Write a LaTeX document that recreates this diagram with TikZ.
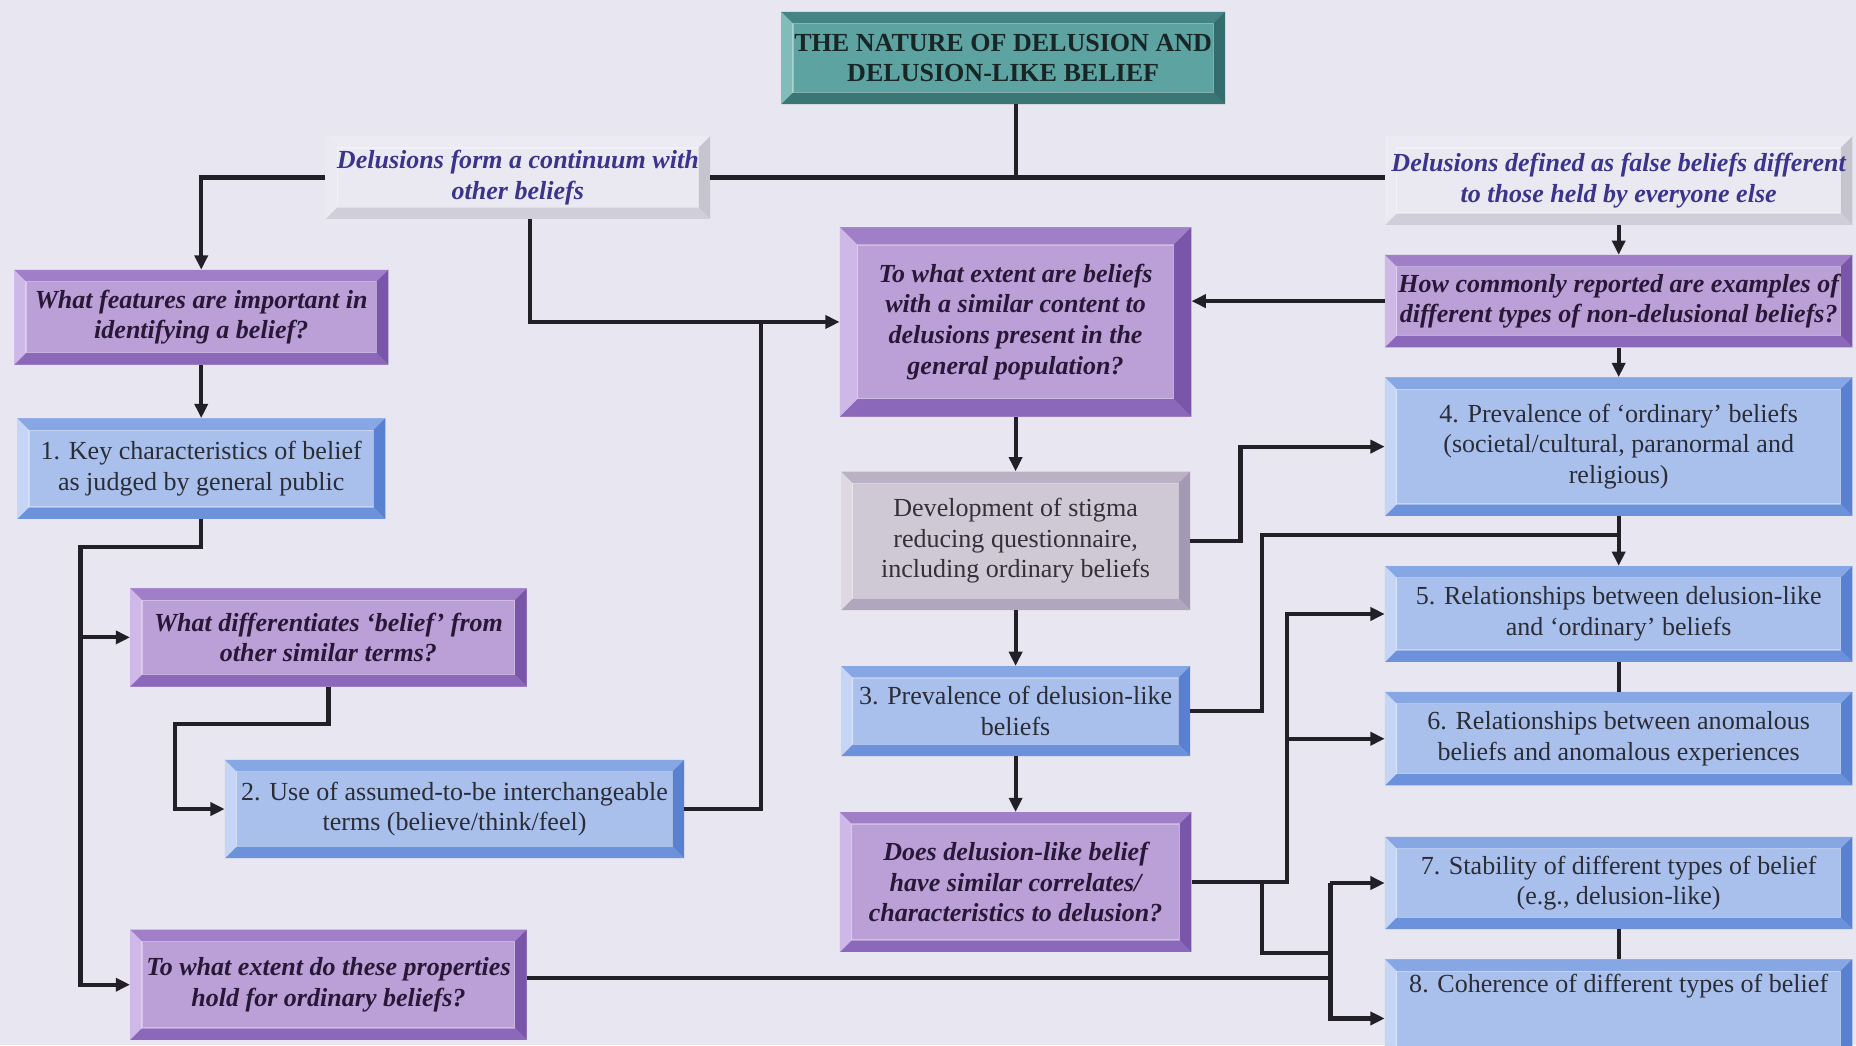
\documentclass[tikz,border=0pt]{standalone}
\usepackage{fontspec}
\setmainfont{Liberation Serif}
\usetikzlibrary{positioning, arrows.meta}

\definecolor{bgcol}{RGB}{232,230,240}
\definecolor{linecol}{RGB}{34,32,38}
% purple question boxes
\definecolor{qface}{RGB}{187,160,215}
\definecolor{qtop}{RGB}{160,126,200}
\definecolor{qright}{RGB}{122,86,170}
\definecolor{qbottom}{RGB}{140,104,186}
\definecolor{qleft}{RGB}{206,184,231}
\definecolor{qtext}{RGB}{40,24,56}
% blue study boxes
\definecolor{sface}{RGB}{170,192,236}
\definecolor{stop}{RGB}{135,166,228}
\definecolor{sright}{RGB}{90,128,210}
\definecolor{sbottom}{RGB}{108,146,220}
\definecolor{sleft}{RGB}{197,213,245}
\definecolor{stext}{RGB}{42,44,54}
% grey box
\definecolor{gface}{RGB}{206,201,212}
\definecolor{gtop}{RGB}{186,178,196}
\definecolor{gright}{RGB}{164,153,178}
\definecolor{gbottom}{RGB}{176,166,190}
\definecolor{gleft}{RGB}{221,216,226}
\definecolor{gtext}{RGB}{52,48,58}
% teal title
\definecolor{tface}{RGB}{92,163,162}
\definecolor{ttop}{RGB}{68,132,130}
\definecolor{tright}{RGB}{52,110,108}
\definecolor{tbottom}{RGB}{58,118,116}
\definecolor{tleft}{RGB}{128,188,186}
\definecolor{ttext}{RGB}{25,38,38}
% pale heading boxes
\definecolor{pface}{RGB}{234,233,242}
\definecolor{ptop}{RGB}{236,235,243}
\definecolor{pright}{RGB}{198,196,206}
\definecolor{pbottom}{RGB}{208,206,216}
\definecolor{pleft}{RGB}{235,234,242}
\definecolor{ptext}{RGB}{58,52,140}

\newcommand{\boxfont}{\fontsize{22}{26}\selectfont}

\tikzset{
  bevel/.store in=\bevelw, bevel=10pt,
  facets/.style n args={4}{path picture={
    \path (path picture bounding box.north west) coordinate (bnw)
          (path picture bounding box.north east) coordinate (bne)
          (path picture bounding box.south east) coordinate (bse)
          (path picture bounding box.south west) coordinate (bsw);
    \fill[#1] (bnw) -- (bne) -- ([shift={(-\bevelw,-\bevelw)}]bne) -- ([shift={(\bevelw,-\bevelw)}]bnw) -- cycle;
    \fill[#2] (bne) -- (bse) -- ([shift={(-\bevelw,\bevelw)}]bse) -- ([shift={(-\bevelw,-\bevelw)}]bne) -- cycle;
    \fill[#3] (bse) -- (bsw) -- ([shift={(\bevelw,\bevelw)}]bsw) -- ([shift={(-\bevelw,\bevelw)}]bse) -- cycle;
    \fill[#4] (bsw) -- (bnw) -- ([shift={(\bevelw,-\bevelw)}]bnw) -- ([shift={(\bevelw,\bevelw)}]bsw) -- cycle;
    \draw[white, opacity=0.35, line width=1pt] ([shift={(\bevelw,-\bevelw)}]bnw) rectangle ([shift={(-\bevelw,\bevelw)}]bse);
  }},
  anybox/.style={rectangle, inner sep=0pt, align=center},
  qbox/.style={anybox, fill=qface, facets={qtop}{qright}{qbottom}{qleft}, text=qtext, font=\boxfont\bfseries\itshape},
  sbox/.style={anybox, fill=sface, facets={stop}{sright}{sbottom}{sleft}, text=stext, font=\boxfont},
  gbox/.style={anybox, fill=gface, facets={gtop}{gright}{gbottom}{gleft}, text=gtext, font=\boxfont},
  topbox/.style={anybox, fill=tface, facets={ttop}{tright}{tbottom}{tleft}, text=ttext, font=\boxfont\bfseries},
  headbox/.style={anybox, fill=pface, facets={ptop}{pright}{pbottom}{pleft}, text=ptext, font=\boxfont\bfseries\itshape},
  joint/.style={draw=linecol, line width=3.5pt},
  flow/.style={joint, -{Triangle[length=12pt, width=11pt]}},
}

\begin{document}
\begin{tikzpicture}[x=1pt, y=-1pt]

  \fill[bgcol] (0,0) rectangle (1568,883);
  \useasboundingbox (0,0) rectangle (1568,883);

  \node[topbox, minimum width=375pt, minimum height=78pt] (nature) at (847.5,49) {THE NATURE OF DELUSION AND\\DELUSION-LIKE BELIEF};

  \node[headbox, minimum width=325pt, minimum height=70pt] (continuum) at (437.5,150) {Delusions form a continuum with\\other beliefs};
  \node[headbox, minimum width=395pt, minimum height=75pt] (defined) at (1367.5,152.5) {Delusions defined as false beliefs different\\to those held by everyone else};

  %==================================================

  \node[qbox, minimum width=316pt, minimum height=80pt] (features) at (170,268) {What features are important in\\identifying a belief?};
  \node[sbox, minimum width=311pt, minimum height=85pt, below=45pt of features] (key_chars) {1. Key characteristics of belief\\as judged by general public};
  \node[qbox, minimum width=335pt, minimum height=83pt] (differ) at (277.5,538.5) {What differentiates `belief' from\\other similar terms?};
  \node[sbox, minimum width=388pt, minimum height=83pt] (terms) at (384,683.5) {2. Use of assumed-to-be interchangeable\\terms (believe/think/feel)};
  \node[qbox, minimum width=335pt, minimum height=93pt, below=205pt of differ] (properties) {To what extent do these properties\\hold for ordinary beliefs?};

  %==================================================

  \node[qbox, bevel=15pt, minimum width=297pt, minimum height=160pt] (extent) at (858,272) {To what extent are beliefs\\with a similar content to\\delusions present in the\\general population?};
  \node[gbox, minimum width=295pt, minimum height=117pt, below=46pt of extent] (stigma) {Development of stigma\\reducing questionnaire,\\including ordinary beliefs};
  \node[sbox, minimum width=295pt, minimum height=76pt, below=47pt of stigma] (prev_dl) {3. Prevalence of delusion-like\\beliefs};
  \node[qbox, minimum width=297pt, minimum height=118pt, below=47pt of prev_dl] (correlates) {Does delusion-like belief\\have similar correlates/\\characteristics to delusion?};

  %==================================================

  \node[qbox, minimum width=395pt, minimum height=78pt, below=25pt of defined] (commonly) {How commonly reported are examples of\\different types of non-delusional beliefs?};
  \node[sbox, minimum width=395pt, minimum height=117pt, below=25pt of commonly] (prev_ord) {4. Prevalence of `ordinary' beliefs\\(societal/cultural, paranormal and\\religious)};
  \node[sbox, minimum width=395pt, minimum height=81pt, below=42pt of prev_ord] (rel_dl) {5. Relationships between delusion-like\\and `ordinary' beliefs};
  \node[sbox, minimum width=395pt, minimum height=79pt, below=25pt of rel_dl] (rel_anom) {6. Relationships between anomalous\\beliefs and anomalous experiences};
  \node[sbox, minimum width=395pt, minimum height=78pt, below=43pt of rel_anom] (stability) {7. Stability of different types of belief\\(e.g., delusion-like)};
  \node[sbox, minimum width=395pt, minimum height=100pt, below=25pt of stability] (coherence) {8. Coherence of different types of belief\\\strut\\\strut};

  %==================================================

  \coordinate (feed_extent) at (643,272);
  \coordinate (bend_left) at (68,462);
  \coordinate (bend_terms) at (148,612);
  \coordinate (bus_ord) at (1048,377);
  \coordinate (bus_dl) at (1066,452);
  \coordinate (bus_rel) at (1087,520);
  \coordinate (bus_stab) at (1124,805);

  \draw[joint] (nature.south -| extent.north) |- (continuum.east);
  \draw[joint] (continuum.east) -- (continuum.east -| defined.west);

  \draw[flow] (continuum.west) -| (features.north);
  \draw[flow] ([xshift=10pt]continuum.south) |- (extent.west);
  \draw[joint] (terms.east) -| (feed_extent);

  \draw[flow] (defined.south) -- (commonly.north);
  \draw[flow] (commonly.west) -- (commonly.west -| extent.east);
  \draw[flow] (commonly.south) -- (prev_ord.north);

  \draw[flow] (features.south) -- (key_chars.north);
  \draw[flow] (key_chars.south) |- (bend_left) |- (properties.west);
  \draw[flow] (bend_left |- differ.west) -- (differ.west);
  \draw[flow] (differ.south) |- (bend_terms) |- (terms.west);

  \draw[flow] (extent.south) -- (stigma.north);
  \draw[flow] (stigma.south) -- (prev_dl.north);
  \draw[flow] (prev_dl.south) -- (correlates.north);

  \draw[flow] (stigma.east) -| (bus_ord |- prev_ord.west) -- (prev_ord.west);
  \draw[flow] (prev_ord.south) -- (rel_dl.north);
  \draw[joint] (prev_dl.east) -| (bus_dl) -- (bus_dl -| prev_ord.south);

  \draw[joint] (rel_dl.south) -- (rel_anom.north);
  \draw[joint] (stability.south) -- (coherence.north);

  \draw[flow] (correlates.east) -| (bus_rel |- rel_dl.west) -- (rel_dl.west);
  \draw[flow] (bus_rel |- rel_anom.west) -- (rel_anom.west);
  \draw[joint] (correlates.east -| bus_dl) |- (bus_stab);
  \draw[flow] (bus_stab |- stability.west) -- (stability.west);
  \draw[flow] (bus_stab |- stability.west) |- (coherence.west);
  \draw[joint] ([yshift=6pt]properties.east) -- ([yshift=6pt]properties.east -| bus_stab);

\end{tikzpicture}
\end{document}
